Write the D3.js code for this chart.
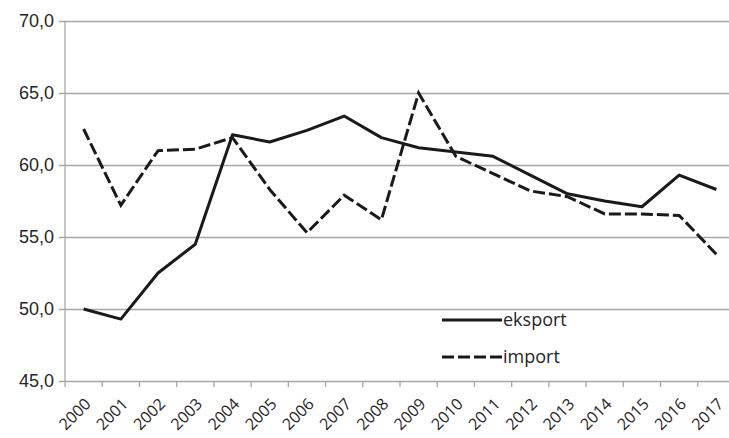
<!DOCTYPE html>
<html>
<head>
<meta charset="utf-8">
<script src="https://cdn.jsdelivr.net/npm/d3@7"></script>
<style>
  body { margin: 0; background: #fff; }
  svg { display: block; font-family: 'Open Sans', sans-serif; }
  .axis text { fill: #262626; font-size: 18px; }
  .grid line { stroke: #a6a6a6; stroke-width: 1.3; }
</style>
</head>
<body>
<svg id="chart"></svg>
<script>
// Data
const years = ['2000', '2001', '2002', '2003', '2004', '2005', '2006', '2007', '2008',
  '2009', '2010', '2011', '2012', '2013', '2014', '2015', '2016', '2017'];
const eksport = [50.0, 49.3, 52.5, 54.5, 62.1, 61.6, 62.4, 63.4, 61.9,
  61.2, 60.9, 60.6, 59.3, 58.0, 57.5, 57.1, 59.3, 58.3];
const importVals = [62.5, 57.2, 61.0, 61.1, 61.9, 58.3, 55.3, 57.9, 56.2,
  65.0, 60.6, 59.4, 58.2, 57.8, 56.6, 56.6, 56.5, 53.8];
const yTicks = [45, 50, 55, 60, 65, 70];

const width = 729, height = 438;
const margin = {top: 21, left: 65, bottom: 57};
const plotRight = 735; // plot area runs slightly past the window edge

const svg = d3.select('#chart')
    .attr('width', width)
    .attr('height', height);

const xScale = d3.scaleBand()
    .domain(years)
    .range([margin.left, plotRight])
    .padding(0);

const yScale = d3.scaleLinear()
    .domain([45, 70])
    .range([height - margin.bottom, margin.top]);

// Horizontal gridlines + y axis labels
const yAxis = d3.axisLeft(yScale)
    .tickValues(yTicks)
    .tickSize(-(plotRight - margin.left) - 6)
    .tickPadding(10)
    .tickFormat(d => d3.format('.1f')(d).replace('.', ','));

svg.append('g')
    .attr('class', 'axis grid')
    .attr('transform', `translate(${margin.left - 6},0)`)
    .call(yAxis)
    .call(g => g.select('.domain').remove())
    .call(g => g.selectAll('text').attr('x', -5));

// Vertical axis line
svg.append('line')
    .attr('x1', margin.left).attr('x2', margin.left)
    .attr('y1', yScale(70)).attr('y2', yScale(45))
    .attr('stroke', '#a6a6a6')
    .attr('stroke-width', 1.3);

// X axis: ticks at band boundaries
const xBottom = yScale(45);
const boundaries = d3.range(years.length + 1).map(i => margin.left + i * xScale.bandwidth());
svg.append('g')
  .selectAll('line')
  .data(boundaries)
  .join('line')
    .attr('x1', d => d).attr('x2', d => d)
    .attr('y1', xBottom).attr('y2', xBottom + 6)
    .attr('stroke', '#a6a6a6')
    .attr('stroke-width', 1.3);

svg.append('g')
    .attr('class', 'axis')
  .selectAll('text')
  .data(years)
  .join('text')
    .attr('transform', d => `translate(${xScale(d) + xScale.bandwidth() / 2},${xBottom + 16}) rotate(-45)`)
    .attr('text-anchor', 'end')
    .attr('dy', '0.71em')
    .style('font-size', '16px')
    .text(d => d);

// Lines
const line = d3.line()
    .x((d, i) => xScale(years[i]) + xScale.bandwidth() / 2)
    .y(d => yScale(d));

svg.append('path')
    .datum(eksport)
    .attr('fill', 'none')
    .attr('stroke', '#1a1a1a')
    .attr('stroke-width', 3)
    .attr('stroke-linejoin', 'round')
    .attr('d', line);

svg.append('path')
    .datum(importVals)
    .attr('fill', 'none')
    .attr('stroke', '#1a1a1a')
    .attr('stroke-width', 3)
    .attr('stroke-dasharray', '12,4')
    .attr('d', line);

// Legend
const legend = [
  {name: 'eksport', dash: null, y: 320},
  {name: 'import', dash: '12,4', y: 357}
];
const lg = svg.append('g');
lg.selectAll('line')
  .data(legend)
  .join('line')
    .attr('x1', 442).attr('x2', 502)
    .attr('y1', d => d.y).attr('y2', d => d.y)
    .attr('stroke', '#1a1a1a')
    .attr('stroke-width', 3)
    .attr('stroke-dasharray', d => d.dash);
lg.selectAll('text')
  .data(legend)
  .join('text')
    .attr('x', 503)
    .attr('y', d => d.y)
    .attr('dy', '0.35em')
    .attr('fill', '#262626')
    .style('font-size', '18px')
    .text(d => d.name);
</script>
</body>
</html>
